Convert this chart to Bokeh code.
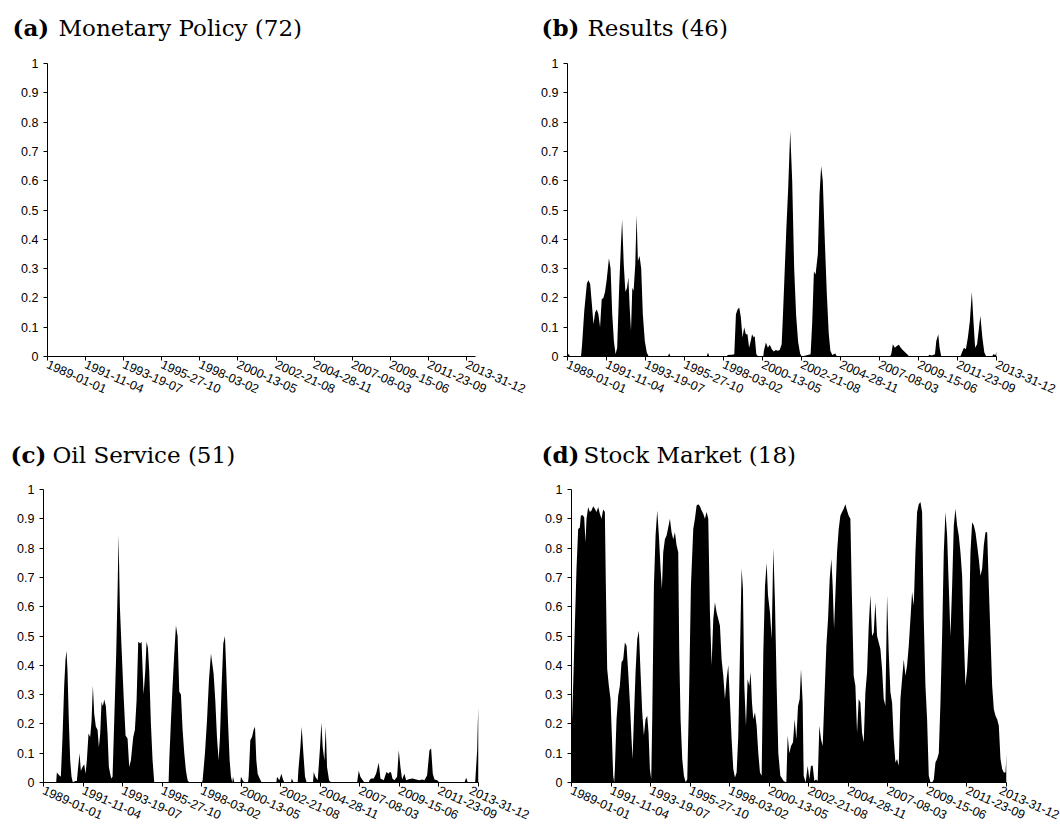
from bokeh.plotting import figure
from bokeh.layouts import column, row
from bokeh.models import FixedTicker
from bokeh.core.properties import value
from bokeh.embed import file_html
from bokeh.resources import INLINE

# ---------------- data ----------------
N_WEEKS = 1304  # 1989-01-01 .. 2013-12-31, weekly index
DATE_LABELS = ["1989-01-01", "1991-11-04", "1993-19-07", "1995-27-10", "1998-03-02",
               "2000-13-05", "2002-21-08", "2004-28-11", "2007-08-03", "2009-15-06",
               "2011-23-09", "2013-31-12"]
Y_TICKS = [0, 0.1, 0.2, 0.3, 0.4, 0.5, 0.6, 0.7, 0.8, 0.9, 1]
Y_LABELS = ["0", "0.1", "0.2", "0.3", "0.4", "0.5", "0.6", "0.7", "0.8", "0.9", "1"]

PANEL_LETTERS = ["(a)", "(b)", "(c)", "(d)"]
PANEL_NAMES = ["Monetary Policy (72)", "Results (46)", "Oil Service (51)", "Stock Market (18)"]

# (a) Monetary Policy: no visible mass
monetary_weeks = []
monetary_values = []

# (b) Results
results_weeks = [0, 5, 8, 41, 44, 51, 59, 64, 69, 74, 79, 84, 89, 94,
                 99, 104, 109, 114, 119, 126, 131, 136, 141, 146,
                 151, 157, 162, 166, 171, 176, 181, 185, 189, 193,
                 197, 201, 206, 210, 214, 219, 224, 229, 235, 241,
                 247, 305, 309, 313, 423, 427, 431, 484, 487, 500,
                 507, 512, 517, 522, 527, 532, 537, 542, 547, 552,
                 557, 561, 566, 569, 574, 580, 595, 597, 603, 609,
                 615, 621, 627, 633, 639, 645, 651, 655, 659, 665,
                 671, 677, 683, 689, 695, 701, 707, 712, 739, 744,
                 749, 754, 761, 766, 771, 776, 782, 788, 794, 799,
                 805, 814, 819, 980, 984, 989, 995, 1001, 1007, 1013,
                 1019, 1027, 1034, 1039, 1097, 1099, 1107, 1117, 1121, 1127,
                 1131, 1136, 1194, 1199, 1205, 1211, 1217, 1223, 1229, 1234,
                 1239, 1245, 1251, 1255, 1261, 1267, 1273, 1291, 1294, 1301,
                 1304]
results_values = [0.01, 0.006, 0.0, 0.0, 0.036, 0.156, 0.25, 0.26, 0.247, 0.18, 0.11, 0.15, 0.16, 0.144,
                  0.10, 0.195, 0.20, 0.22, 0.26, 0.335, 0.30, 0.144, 0.053, 0.008,
                  0.03, 0.235, 0.37, 0.468, 0.315, 0.22, 0.235, 0.27, 0.167, 0.087,
                  0.235, 0.224, 0.315, 0.483, 0.326, 0.343, 0.30, 0.144, 0.053, 0.014,
                  0.0, 0.0, 0.011, 0.0, 0.0, 0.014, 0.0, 0.0, 0.005, 0.006,
                  0.008, 0.144, 0.16, 0.167, 0.133, 0.065, 0.10, 0.076, 0.076, 0.03,
                  0.053, 0.076, 0.065, 0.07, 0.008, 0.0, 0.0, 0.02, 0.048, 0.03,
                  0.04, 0.025, 0.017, 0.022, 0.02, 0.022, 0.042, 0.144, 0.258, 0.43,
                  0.58, 0.77, 0.6, 0.3, 0.14, 0.05, 0.01, 0.0, 0.008, 0.12,
                  0.29, 0.28, 0.35, 0.55, 0.65, 0.6, 0.4, 0.22, 0.08, 0.02,
                  0.005, 0.01, 0.0, 0.0, 0.008, 0.042, 0.03, 0.036, 0.04, 0.03,
                  0.022, 0.014, 0.006, 0.0, 0.0, 0.006, 0.003, 0.008, 0.053, 0.076,
                  0.03, 0.0, 0.0, 0.014, 0.03, 0.025, 0.065, 0.12, 0.22, 0.12,
                  0.03, 0.042, 0.10, 0.139, 0.065, 0.014, 0.0, 0.0, 0.008, 0.005,
                  0.017]

# (c) Oil Service
oil_weeks = [0, 38, 40, 47, 52, 57, 62, 66, 69, 72,
             76, 80, 84, 88, 95, 100, 102, 108, 112, 117,
             122, 126, 130, 135, 140, 144, 148, 152, 157, 162,
             166, 170, 174, 178, 182, 187, 192, 196, 200, 203,
             207, 212, 218, 222, 225, 229, 234, 240, 246, 252,
             257, 262, 269, 274, 279, 284, 290, 294, 300, 305,
             309, 313, 317, 322, 327, 332, 375, 377, 382, 387,
             392, 397, 402, 407, 412, 417, 422, 427, 432, 437,
             475, 477, 484, 490, 496, 502, 506, 510, 515, 520,
             525, 529, 534, 539, 544, 548, 553, 558, 562, 566,
             568, 572, 590, 592, 597, 602, 613, 615, 620, 625,
             630, 634, 638, 642, 648, 654, 698, 700, 707, 713,
             718, 722, 742, 744, 750, 762, 764, 770, 774, 779,
             784, 789, 808, 810, 815, 822, 829, 833, 837, 842,
             846, 850, 856, 862, 940, 945, 950, 957, 962, 975,
             977, 982, 990, 997, 1005, 1010, 1020, 1028, 1034, 1038,
             1042, 1046, 1052, 1060, 1065, 1070, 1075, 1082, 1087, 1097,
             1107, 1117, 1127, 1135, 1142, 1150, 1157, 1162, 1167, 1172,
             1180, 1187, 1262, 1267, 1272, 1294, 1300, 1302, 1304]
oil_values = [0.0, 0.0, 0.034, 0.025, 0.02, 0.155, 0.33, 0.42, 0.45, 0.38,
              0.21, 0.076, 0.02, 0.0, 0.005, 0.005, 0.03, 0.10, 0.04, 0.053,
              0.062, 0.03, 0.076, 0.167, 0.155, 0.21, 0.33, 0.235, 0.19, 0.18,
              0.12, 0.167, 0.276, 0.26, 0.283, 0.26, 0.167, 0.053, 0.03, 0.014,
              0.02, 0.21, 0.44, 0.65, 0.845, 0.6, 0.46, 0.3, 0.16, 0.15,
              0.053, 0.076, 0.155, 0.18, 0.28, 0.48, 0.474, 0.48, 0.3, 0.38,
              0.48, 0.46, 0.38, 0.2, 0.076, 0.0, 0.0, 0.076, 0.21, 0.33,
              0.44, 0.536, 0.5, 0.31, 0.30, 0.18, 0.10, 0.04, 0.008, 0.0,
              0.0, 0.008, 0.10, 0.21, 0.35, 0.44, 0.405, 0.37, 0.28, 0.155,
              0.076, 0.155, 0.33, 0.474, 0.50, 0.38, 0.21, 0.076, 0.02, 0.0,
              0.02, 0.0, 0.0, 0.02, 0.008, 0.0, 0.0, 0.02, 0.144, 0.155,
              0.18, 0.19, 0.076, 0.03, 0.014, 0.0, 0.0, 0.02, 0.008, 0.03,
              0.01, 0.0, 0.0, 0.014, 0.0, 0.0, 0.042, 0.12, 0.19, 0.10,
              0.02, 0.0, 0.0, 0.036, 0.02, 0.008, 0.12, 0.205, 0.12, 0.076,
              0.19, 0.053, 0.008, 0.0, 0.0, 0.04, 0.02, 0.008, 0.0, 0.0,
              0.008, 0.014, 0.014, 0.03, 0.067, 0.014, 0.008, 0.036, 0.03, 0.036,
              0.034, 0.014, 0.008, 0.02, 0.11, 0.053, 0.01, 0.03, 0.008, 0.012,
              0.014, 0.01, 0.008, 0.01, 0.008, 0.025, 0.11, 0.116, 0.03, 0.01,
              0.008, 0.0, 0.0, 0.016, 0.0, 0.0, 0.11, 0.21, 0.255]

# (d) Stock Market
stock_weeks = [0, 5, 10, 15, 20, 25, 28, 33, 38, 42,
               45, 50, 55, 60, 65, 70, 75, 80, 85, 90,
               95, 100, 103, 107, 112, 117, 121, 125, 128, 130,
               135, 140, 145, 150, 155, 160, 165, 170, 175, 180,
               183, 187, 192, 197, 202, 207, 212, 217, 222, 227,
               231, 235, 239, 242, 247, 252, 257, 262, 267, 271,
               275, 280, 285, 290, 295, 300, 305, 310, 315, 320,
               323, 327, 332, 337, 342, 347, 352, 358, 365, 370,
               375, 380, 385, 390, 395, 400, 405, 410, 415, 420,
               425, 430, 435, 440, 445, 450, 455, 460, 465, 470,
               475, 480, 485, 490, 495, 500, 505, 510, 514, 518,
               523, 528, 533, 537, 541, 545, 550, 555, 560, 565,
               570, 575, 580, 585, 589, 595, 600, 605, 610, 615,
               620, 626, 636, 644, 648, 653, 658, 664, 669, 674,
               679, 684, 688, 693, 696, 702, 708, 713, 718, 723,
               728, 733, 738, 743, 748, 753, 758, 764, 769, 774,
               779, 783, 787, 791, 796, 801, 806, 811, 816, 821,
               826, 831, 836, 841, 846, 851, 856, 861, 866, 871,
               876, 881, 886, 891, 896, 901, 906, 911, 916, 921,
               926, 931, 936, 941, 946, 951, 956, 961, 966, 971,
               976, 981, 986, 991, 996, 1001, 1006, 1011, 1016, 1021,
               1026, 1031, 1036, 1041, 1046, 1051, 1056, 1061, 1066, 1071,
               1076, 1081, 1086, 1091, 1096, 1101, 1106, 1111, 1116, 1121,
               1126, 1131, 1136, 1141, 1146, 1151, 1156, 1161, 1166, 1171,
               1176, 1181, 1186, 1191, 1196, 1201, 1206, 1211, 1216, 1221,
               1226, 1231, 1236, 1241, 1246, 1251, 1256, 1261, 1266, 1271,
               1276, 1281, 1286, 1291, 1296, 1301, 1304]
stock_values = [0.16, 0.33, 0.535, 0.73, 0.865, 0.87, 0.91, 0.913, 0.905, 0.82,
                0.90, 0.94, 0.923, 0.928, 0.943, 0.934, 0.923, 0.94, 0.917, 0.90,
                0.932, 0.923, 0.67, 0.387, 0.33, 0.285, 0.16, 0.023, 0.0, 0.046,
                0.216, 0.296, 0.33, 0.41, 0.42, 0.478, 0.467, 0.376, 0.273, 0.148,
                0.08, 0.216, 0.376, 0.49, 0.518, 0.376, 0.24, 0.16, 0.216, 0.228,
                0.17, 0.046, 0.011, 0.216, 0.67, 0.843, 0.928, 0.843, 0.73, 0.66,
                0.786, 0.83, 0.843, 0.87, 0.90, 0.854, 0.83, 0.854, 0.81, 0.786,
                0.444, 0.216, 0.08, 0.023, 0.002, 0.01, 0.273, 0.67, 0.865, 0.90,
                0.945, 0.95, 0.943, 0.928, 0.917, 0.90, 0.923, 0.90, 0.58, 0.40,
                0.558, 0.615, 0.58, 0.558, 0.535, 0.42, 0.364, 0.285, 0.353, 0.40,
                0.273, 0.148, 0.046, 0.017, 0.034, 0.16, 0.444, 0.73, 0.66, 0.33,
                0.194, 0.353, 0.33, 0.376, 0.273, 0.216, 0.24, 0.194, 0.10, 0.034,
                0.023, 0.444, 0.67, 0.75, 0.64, 0.58, 0.49, 0.80, 0.615, 0.33,
                0.10, 0.023, 0.005, 0.0, 0.16, 0.10, 0.125, 0.137, 0.216, 0.148,
                0.26, 0.285, 0.387, 0.273, 0.023, 0.0, 0.057, 0.011, 0.057, 0.057,
                0.005, 0.01, 0.005, 0.194, 0.148, 0.125, 0.285, 0.467, 0.558, 0.695,
                0.763, 0.67, 0.524, 0.64, 0.786, 0.865, 0.91, 0.923, 0.934, 0.95,
                0.928, 0.91, 0.90, 0.615, 0.364, 0.33, 0.17, 0.285, 0.273, 0.17,
                0.137, 0.308, 0.376, 0.535, 0.64, 0.50, 0.512, 0.615, 0.50, 0.478,
                0.456, 0.387, 0.285, 0.262, 0.64, 0.444, 0.308, 0.273, 0.148, 0.068,
                0.08, 0.057, 0.285, 0.353, 0.42, 0.364, 0.40, 0.467, 0.558, 0.65,
                0.604, 0.786, 0.923, 0.95, 0.957, 0.923, 0.558, 0.33, 0.216, 0.023,
                0.002, 0.0, 0.01, 0.068, 0.08, 0.10, 0.273, 0.50, 0.786, 0.923,
                0.843, 0.67, 0.50, 0.67, 0.877, 0.934, 0.877, 0.843, 0.786, 0.706,
                0.50, 0.33, 0.387, 0.50, 0.786, 0.888, 0.877, 0.854, 0.81, 0.763,
                0.706, 0.73, 0.81, 0.854, 0.854, 0.67, 0.50, 0.33, 0.25, 0.228,
                0.216, 0.194, 0.08, 0.046, 0.034, 0.034, 0.10]

X_TICKS = [i * N_WEEKS / 11 for i in range(12)]

# ---------------- styling ----------------
COL_W = 530
FRAME_H = 293
TICK_FONT = "Liberation Sans"
TITLE_FONT = "DejaVu Serif"
TITLE_SIZE = "23px"


def no_align(fig):
    try:
        fig.frame_align = False
    except Exception:
        pass


def title_fig(idx, height, base_y, x_letter, x_name):
    t = figure(width=COL_W, height=height, x_range=(0, COL_W), y_range=(0, height),
               x_axis_location=None, y_axis_location=None, min_border=0,
               output_backend="svg", toolbar_location=None, tools="")
    no_align(t)
    t.grid.visible = False
    t.outline_line_color = None
    t.text(x=[x_letter], y=[base_y], text=[PANEL_LETTERS[idx]],
           text_font=value(TITLE_FONT), text_font_style=value("bold"),
           text_font_size=value(TITLE_SIZE), text_color="black",
           text_baseline=value("alphabetic"), text_align=value("left"))
    t.text(x=[x_name], y=[base_y], text=[PANEL_NAMES[idx]],
           text_font=value(TITLE_FONT), text_font_style=value("normal"),
           text_font_size=value(TITLE_SIZE), text_color="black",
           text_baseline=value("alphabetic"), text_align=value("left"))
    return t


def panel(weeks, values, x_end, frame_w, bl, br, bt, bb):
    p = figure(frame_width=frame_w, frame_height=FRAME_H,
               x_range=(0, x_end), y_range=(0, 1),
               min_border_left=bl, min_border_right=br,
               min_border_top=bt, min_border_bottom=bb,
               output_backend="svg", toolbar_location=None, tools="")
    no_align(p)
    p.outline_line_color = None
    p.xgrid.visible = False
    p.ygrid.visible = False

    if len(weeks) > 0:
        p.varea(x=weeks, y1=0, y2=values, fill_color="black")

    for ax in (p.xaxis[0], p.yaxis[0]):
        ax.axis_line_color = "black"
        ax.axis_line_width = 1
        ax.major_tick_line_color = "black"
        ax.minor_tick_line_color = None
        ax.major_tick_out = 4
        ax.major_tick_in = 0
        ax.major_label_text_font = TICK_FONT
        ax.major_label_text_font_size = "12.5px"
        ax.major_label_text_color = "black"

    p.xaxis.ticker = FixedTicker(ticks=X_TICKS)
    p.xaxis.major_label_overrides = dict(zip(X_TICKS, DATE_LABELS))
    p.xaxis.major_label_orientation = -0.42
    p.xaxis.major_label_standoff = 3

    p.yaxis.ticker = FixedTicker(ticks=Y_TICKS)
    p.yaxis.major_label_overrides = dict(zip(Y_TICKS, Y_LABELS))
    p.yaxis.major_label_standoff = 5
    return p


# top row: title strip 45px, frame top at y=63
ta = title_fig(0, 45, 18, 12, 58)
tb = title_fig(1, 45, 18, 11, 57)
pa = panel(monetary_weeks, monetary_values, 1332, 428, 47, 55, 18, 68)
pb = panel(results_weeks, results_values, N_WEEKS, 429, 37, 64, 18, 68)

# bottom row: title strip 47px, frame top at y=489
tc = title_fig(2, 47, 17, 10, 52)
td = title_fig(3, 47, 17, 11, 53)
pc = panel(oil_weeks, oil_values, N_WEEKS, 435, 43, 52, 18, 30)
pd = panel(stock_weeks, stock_values, N_WEEKS, 435, 41, 54, 18, 30)

layout = column(row(column(ta, pa), column(tb, pb)),
                row(column(tc, pc), column(td, pd)))

open("out.html", "w").write(file_html(layout, INLINE))
